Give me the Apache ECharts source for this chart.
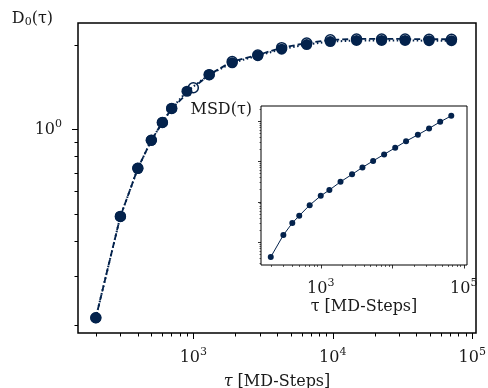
<!DOCTYPE html>
<html>
<head>
<meta charset="utf-8">
<script src="https://cdn.jsdelivr.net/npm/echarts@6/dist/echarts.min.js"></script>
<style>
  html, body { margin: 0; padding: 0; background: #fff; }
  #chart { width: 488px; height: 388px; }
</style>
</head>
<body>
<div id="chart"></div>
<script>
// main panel: D0(tau), filled markers + dotted line
const tauFilled = [200, 300, 400, 500, 600, 700, 900, 1300, 1900, 2900, 4300, 6500, 9600, 14800, 22400, 33000, 49000, 71000]
const d0Filled = [0.213, 0.49, 0.727, 0.916, 1.06, 1.19, 1.37, 1.57, 1.73, 1.835, 1.935, 2.01, 2.06, 2.08, 2.08, 2.08, 2.075, 2.075]
// main panel: open markers + dashed line
const tauOpen = [200, 300, 400, 500, 600, 700, 1000, 1300, 1900, 2900, 4300, 6500, 9600, 14800, 22400, 33000, 49000, 71000]
const d0Open = [0.213, 0.49, 0.727, 0.916, 1.06, 1.19, 1.41, 1.57, 1.75, 1.845, 1.96, 2.035, 2.09, 2.105, 2.105, 2.105, 2.1, 2.1]
// inset: MSD(tau)
const tauInset = [200, 300, 400, 500, 700, 1000, 1320, 1890, 2740, 3830, 5400, 7700, 11000, 15600, 22800, 32700, 46800, 66900]
const msdInset = [0.434, 1.51, 3.0, 4.54, 8.3, 14.1, 19.6, 31.3, 47.8, 71, 103, 149, 217, 316, 454, 653, 950, 1336]

// tick positions
const xMajor = [1000, 10000, 100000]
const xMinor = [200, 300, 400, 500, 600, 700, 800, 900, 2000, 3000, 4000, 5000, 6000, 7000, 8000, 9000,
  20000, 30000, 40000, 50000, 60000, 70000, 80000, 90000]
const xInsetLabels = [1000, 100000]
const yMainMajor = [1]
const yMainMinor = [0.2, 0.3, 0.4, 0.5, 0.6, 0.7, 0.8, 0.9, 2]
const yInsetMajor = [1, 10, 100, 1000]
const yInsetMinor = [0.3, 0.4, 0.5, 0.6, 0.7, 0.8, 0.9, 2, 3, 4, 5, 6, 7, 8, 9, 20, 30, 40, 50, 60, 70, 80, 90,
  200, 300, 400, 500, 600, 700, 800, 900, 2000]

const navy = '#03224c'
const ink = '#1a1a1a'
const font = 'DejaVu Serif'
const sup = { fontSize: 11, fontFamily: font, color: ink, padding: [0, 0, 10, 0] }

function pow10(v) {
  return '10{s|' + Math.round(Math.log10(v)) + '}'
}
function pairs(xs, ys) {
  return xs.map((x, i) => [x, ys[i]])
}

const chart = echarts.init(document.getElementById('chart'))

const option = {
  animation: false,
  textStyle: { fontFamily: font },
  grid: [
    { left: 78, top: 23, width: 398, height: 310, outerBoundsMode: 'none', containLabel: false, show: true, borderColor: '#000', borderWidth: 1.5 },
    { left: 261, top: 106, width: 206, height: 159, outerBoundsMode: 'none', containLabel: false, show: true, borderColor: '#000', borderWidth: 1, backgroundColor: '#fff' }
  ],
  xAxis: [
    {
      gridIndex: 0, type: 'log', min: 149, max: 106400, position: 'bottom',
      name: '{i|τ} [MD-Steps]', nameLocation: 'middle', nameGap: 41,
      nameTextStyle: { fontSize: 16, color: ink, fontFamily: font, rich: { i: { fontStyle: 'italic', fontSize: 16, fontFamily: font, color: ink } } },
      axisLine: { show: false },
      axisTick: { show: true, inside: false, length: 6, lineStyle: { color: '#000', width: 1 }, customValues: xMajor },
      axisLabel: { customValues: xMajor, margin: 14, fontSize: 16, color: ink, formatter: pow10, rich: { s: sup } },
      splitLine: { show: false }
    },
    {
      gridIndex: 0, type: 'log', min: 149, max: 106400, position: 'bottom',
      axisLine: { show: false },
      axisTick: { show: true, length: 3.5, lineStyle: { color: '#000', width: 1 }, customValues: xMinor },
      axisLabel: { show: false },
      splitLine: { show: false }
    },
    {
      gridIndex: 1, type: 'log', min: 146, max: 111000, position: 'bottom',
      name: 'τ [MD-Steps]', nameLocation: 'middle', nameGap: 34,
      nameTextStyle: { fontSize: 16, color: ink, fontFamily: font },
      axisLine: { show: false },
      axisTick: { show: true, length: 3.5, lineStyle: { color: '#000', width: 0.8 }, customValues: xMajor },
      axisLabel: { customValues: xInsetLabels, margin: 13, fontSize: 16, color: ink, formatter: pow10, rich: { s: sup } },
      splitLine: { show: false }
    },
    {
      gridIndex: 1, type: 'log', min: 146, max: 111000, position: 'bottom',
      axisLine: { show: false },
      axisTick: { show: true, length: 2, lineStyle: { color: '#000', width: 0.6 }, customValues: xMinor },
      axisLabel: { show: false },
      splitLine: { show: false }
    }
  ],
  yAxis: [
    {
      gridIndex: 0, type: 'log', min: 0.188, max: 2.4, position: 'left',
      name: 'D{sub|0}(τ)', nameLocation: 'end', nameGap: 4,
      nameTextStyle: {
        fontSize: 16, color: ink, fontFamily: font, align: 'right', verticalAlign: 'middle', padding: [0, 25, 0, 0],
        rich: { sub: { fontSize: 11, fontFamily: font, color: ink, padding: [7, 0, 0, 0] } }
      },
      axisLine: { show: false },
      axisTick: { show: true, length: 6, lineStyle: { color: '#000', width: 1 }, customValues: yMainMajor },
      axisLabel: { customValues: yMainMajor, margin: 16, fontSize: 16, color: ink, formatter: pow10, rich: { s: sup } },
      splitLine: { show: false }
    },
    {
      gridIndex: 0, type: 'log', min: 0.188, max: 2.4, position: 'left',
      axisLine: { show: false },
      axisTick: { show: true, length: 3.5, lineStyle: { color: '#000', width: 1 }, customValues: yMainMinor },
      axisLabel: { show: false },
      splitLine: { show: false }
    },
    {
      gridIndex: 1, type: 'log', min: 0.275, max: 2340, position: 'left',
      name: 'MSD(τ)', nameLocation: 'end', nameGap: -4,
      nameTextStyle: { fontSize: 16, color: ink, fontFamily: font, align: 'right', verticalAlign: 'middle', padding: [0, 9, 0, 0] },
      axisLine: { show: false },
      axisTick: { show: true, length: 3, lineStyle: { color: '#000', width: 0.8 }, customValues: yInsetMajor },
      axisLabel: { show: false },
      splitLine: { show: false }
    },
    {
      gridIndex: 1, type: 'log', min: 0.275, max: 2340, position: 'left',
      axisLine: { show: false },
      axisTick: { show: true, length: 1.5, lineStyle: { color: '#000', width: 0.6 }, customValues: yInsetMinor },
      axisLabel: { show: false },
      splitLine: { show: false }
    }
  ],
  series: [
    {
      name: 'open', type: 'line', xAxisIndex: 0, yAxisIndex: 0,
      data: pairs(tauOpen, d0Open),
      symbol: 'circle', symbolSize: 10,
      itemStyle: { color: '#fff', borderColor: navy, borderWidth: 1.5 },
      lineStyle: { color: navy, width: 1.8, type: [6, 3] },
      z: 2
    },
    {
      name: 'filled', type: 'line', xAxisIndex: 0, yAxisIndex: 0,
      data: pairs(tauFilled, d0Filled),
      symbol: 'circle', symbolSize: 11,
      itemStyle: { color: navy },
      lineStyle: { color: navy, width: 2, type: [1.5, 2.5] },
      z: 3
    },
    {
      name: 'msd', type: 'line', xAxisIndex: 2, yAxisIndex: 2,
      data: pairs(tauInset, msdInset),
      symbol: 'circle', symbolSize: 6,
      itemStyle: { color: navy },
      lineStyle: { color: navy, width: 1 },
      z: 5
    }
  ]
}

chart.setOption(option)
</script>
</body>
</html>
